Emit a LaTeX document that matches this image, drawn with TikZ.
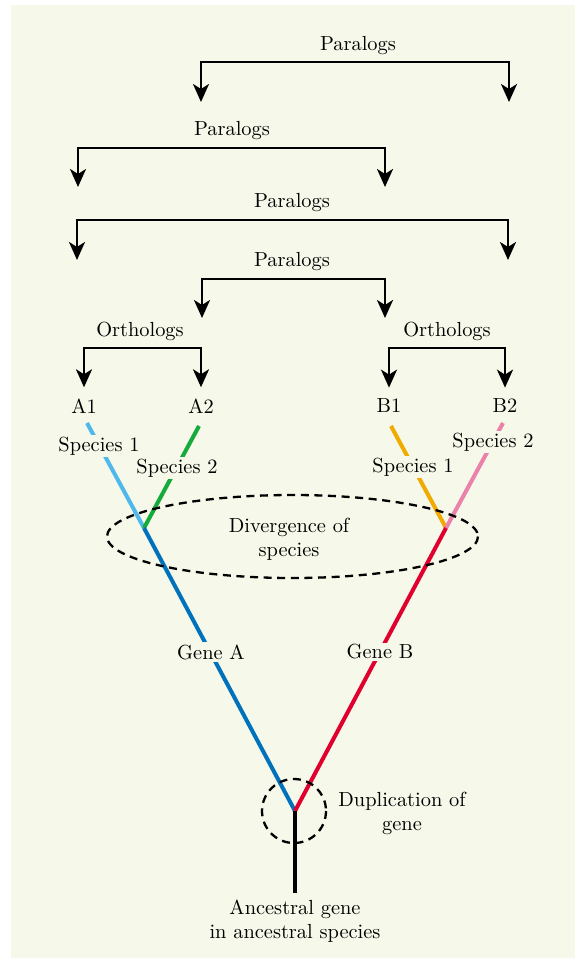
\documentclass[tikz,border=0pt]{standalone}
\usepackage{tikz}
\usetikzlibrary{arrows.meta,positioning,calc}

\definecolor{bgcol}{RGB}{246,248,234}
\definecolor{skyblue}{RGB}{80,185,235}
\definecolor{geneblue}{RGB}{0,114,188}
\definecolor{leafgreen}{RGB}{20,170,60}
\definecolor{genered}{RGB}{225,0,45}
\definecolor{amber}{RGB}{240,170,0}
\definecolor{rosepink}{RGB}{235,130,170}

\begin{document}
\begin{tikzpicture}[x=0.5pt,y=-0.5pt,
  bracket/.style={line width=1.3pt,
    {Stealth[length=9pt,width=8pt,inset=2.5pt]}-{Stealth[length=9pt,width=8pt,inset=2.5pt]}},
  txt/.style={font=\fontsize{10.2}{12}\selectfont,align=center,inner sep=1pt},
  cut/.style={txt,fill=bgcol},
  branch/.style={line width=2pt},
  ring/.style={line width=1.15pt,dash pattern=on 4pt off 2.8pt}]
  \useasboundingbox (0,0) rectangle (575,958); % 画像の大きさ
  \fill[bgcol] (11,5) rectangle (575,958); % 背景の面

  % 遺伝子の名前
  \node[txt] (A1) at (84,406) {A1};
  \node[txt] (A2) at (201,406) {A2};
  \node[txt] (B1) at (389,406) {B1};
  \node[txt] (B2) at (505,406) {B2};

  % オーソログの括弧
  \node[txt] (orthA) at (140,331) {Orthologs};
  \node[txt] (orthB) at (447,331) {Orthologs};
  \coordinate (obarA) at (140,348);
  \coordinate (obarB) at (447,348);
  \draw[bracket,shorten <=4.5pt,shorten >=4.5pt] (A1.north) |- (obarA) -| (A2.north);
  \draw[bracket,shorten <=4.5pt,shorten >=4.5pt] (B1.north) |- (obarB) -| (B2.north);

  % パラログの括弧（上から順に）
  \node[txt] (para1) at (358,46) {Paralogs};
  \coordinate (p1bar) at (358,62);
  \coordinate (p1l) at (201,102);
  \coordinate (p1r) at (509,102);
  \draw[bracket] (p1l) |- (p1bar) -| (p1r);

  \node[txt] (para2) at (232,131) {Paralogs};
  \coordinate (p2bar) at (232,148);
  \coordinate (p2l) at (78,187);
  \coordinate (p2r) at (385,187);
  \draw[bracket] (p2l) |- (p2bar) -| (p2r);

  \node[txt] (para3) at (292,203) {Paralogs};
  \coordinate (p3bar) at (292,220);
  \coordinate (p3l) at (77,260);
  \coordinate (p3r) at (508,260);
  \draw[bracket] (p3l) |- (p3bar) -| (p3r);

  \node[txt] (para4) at (292,262) {Paralogs};
  \coordinate (p4bar) at (292,279);
  \coordinate (p4l) at (202,318);
  \coordinate (p4r) at (385,318);
  \draw[bracket] (p4l) |- (p4bar) -| (p4r);

  % 系統樹の点
  \coordinate (root) at (295,893);
  \coordinate (dup) at (295,811);
  \coordinate (jA) at (144,528);
  \coordinate (jB) at (446,528);
  \coordinate (tA1) at (87,423);
  \coordinate (tA2) at (199,426);
  \coordinate (tB1) at (391,426);
  \coordinate (tB2) at (503,423);

  % 枝
  \draw[branch,skyblue] (tA1) -- (jA);
  \draw[branch,leafgreen] (tA2) -- (jA);
  \draw[branch,geneblue] (jA) -- (dup);
  \draw[branch,amber] (tB1) -- (jB);
  \draw[branch,rosepink] (tB2) -- (jB);
  \draw[branch,genered] (jB) -- (dup);
  \draw[branch,black] (dup) -- (root);

  % 種の分岐と遺伝子重複の点線
  \draw[ring] (292.5,536.5) ellipse [x radius=185.5,y radius=41.5];
  \draw[ring] (294,811) circle [radius=32];

  % ラベル（線を切る）
  \node[cut] (spA1) at (99,446) {Species 1};
  \node[cut] (spA2) at (177,468) {Species 2};
  \node[cut] (spB1) at (413,467) {Species 1};
  \node[cut] (spB2) at (493,442) {Species 2};
  \node[cut] (geneA) at (211,652) {Gene A};
  \node[cut] (geneB) at (380,652) {Gene B};

  \node[txt] (diverge) at (289,539) {Divergence of\\species};
  \node[txt] (dupl) at (402,813) {Duplication of\\gene};
  \node[txt] (anc) at (295,921) {Ancestral gene\\in ancestral species};
\end{tikzpicture}
\end{document}
